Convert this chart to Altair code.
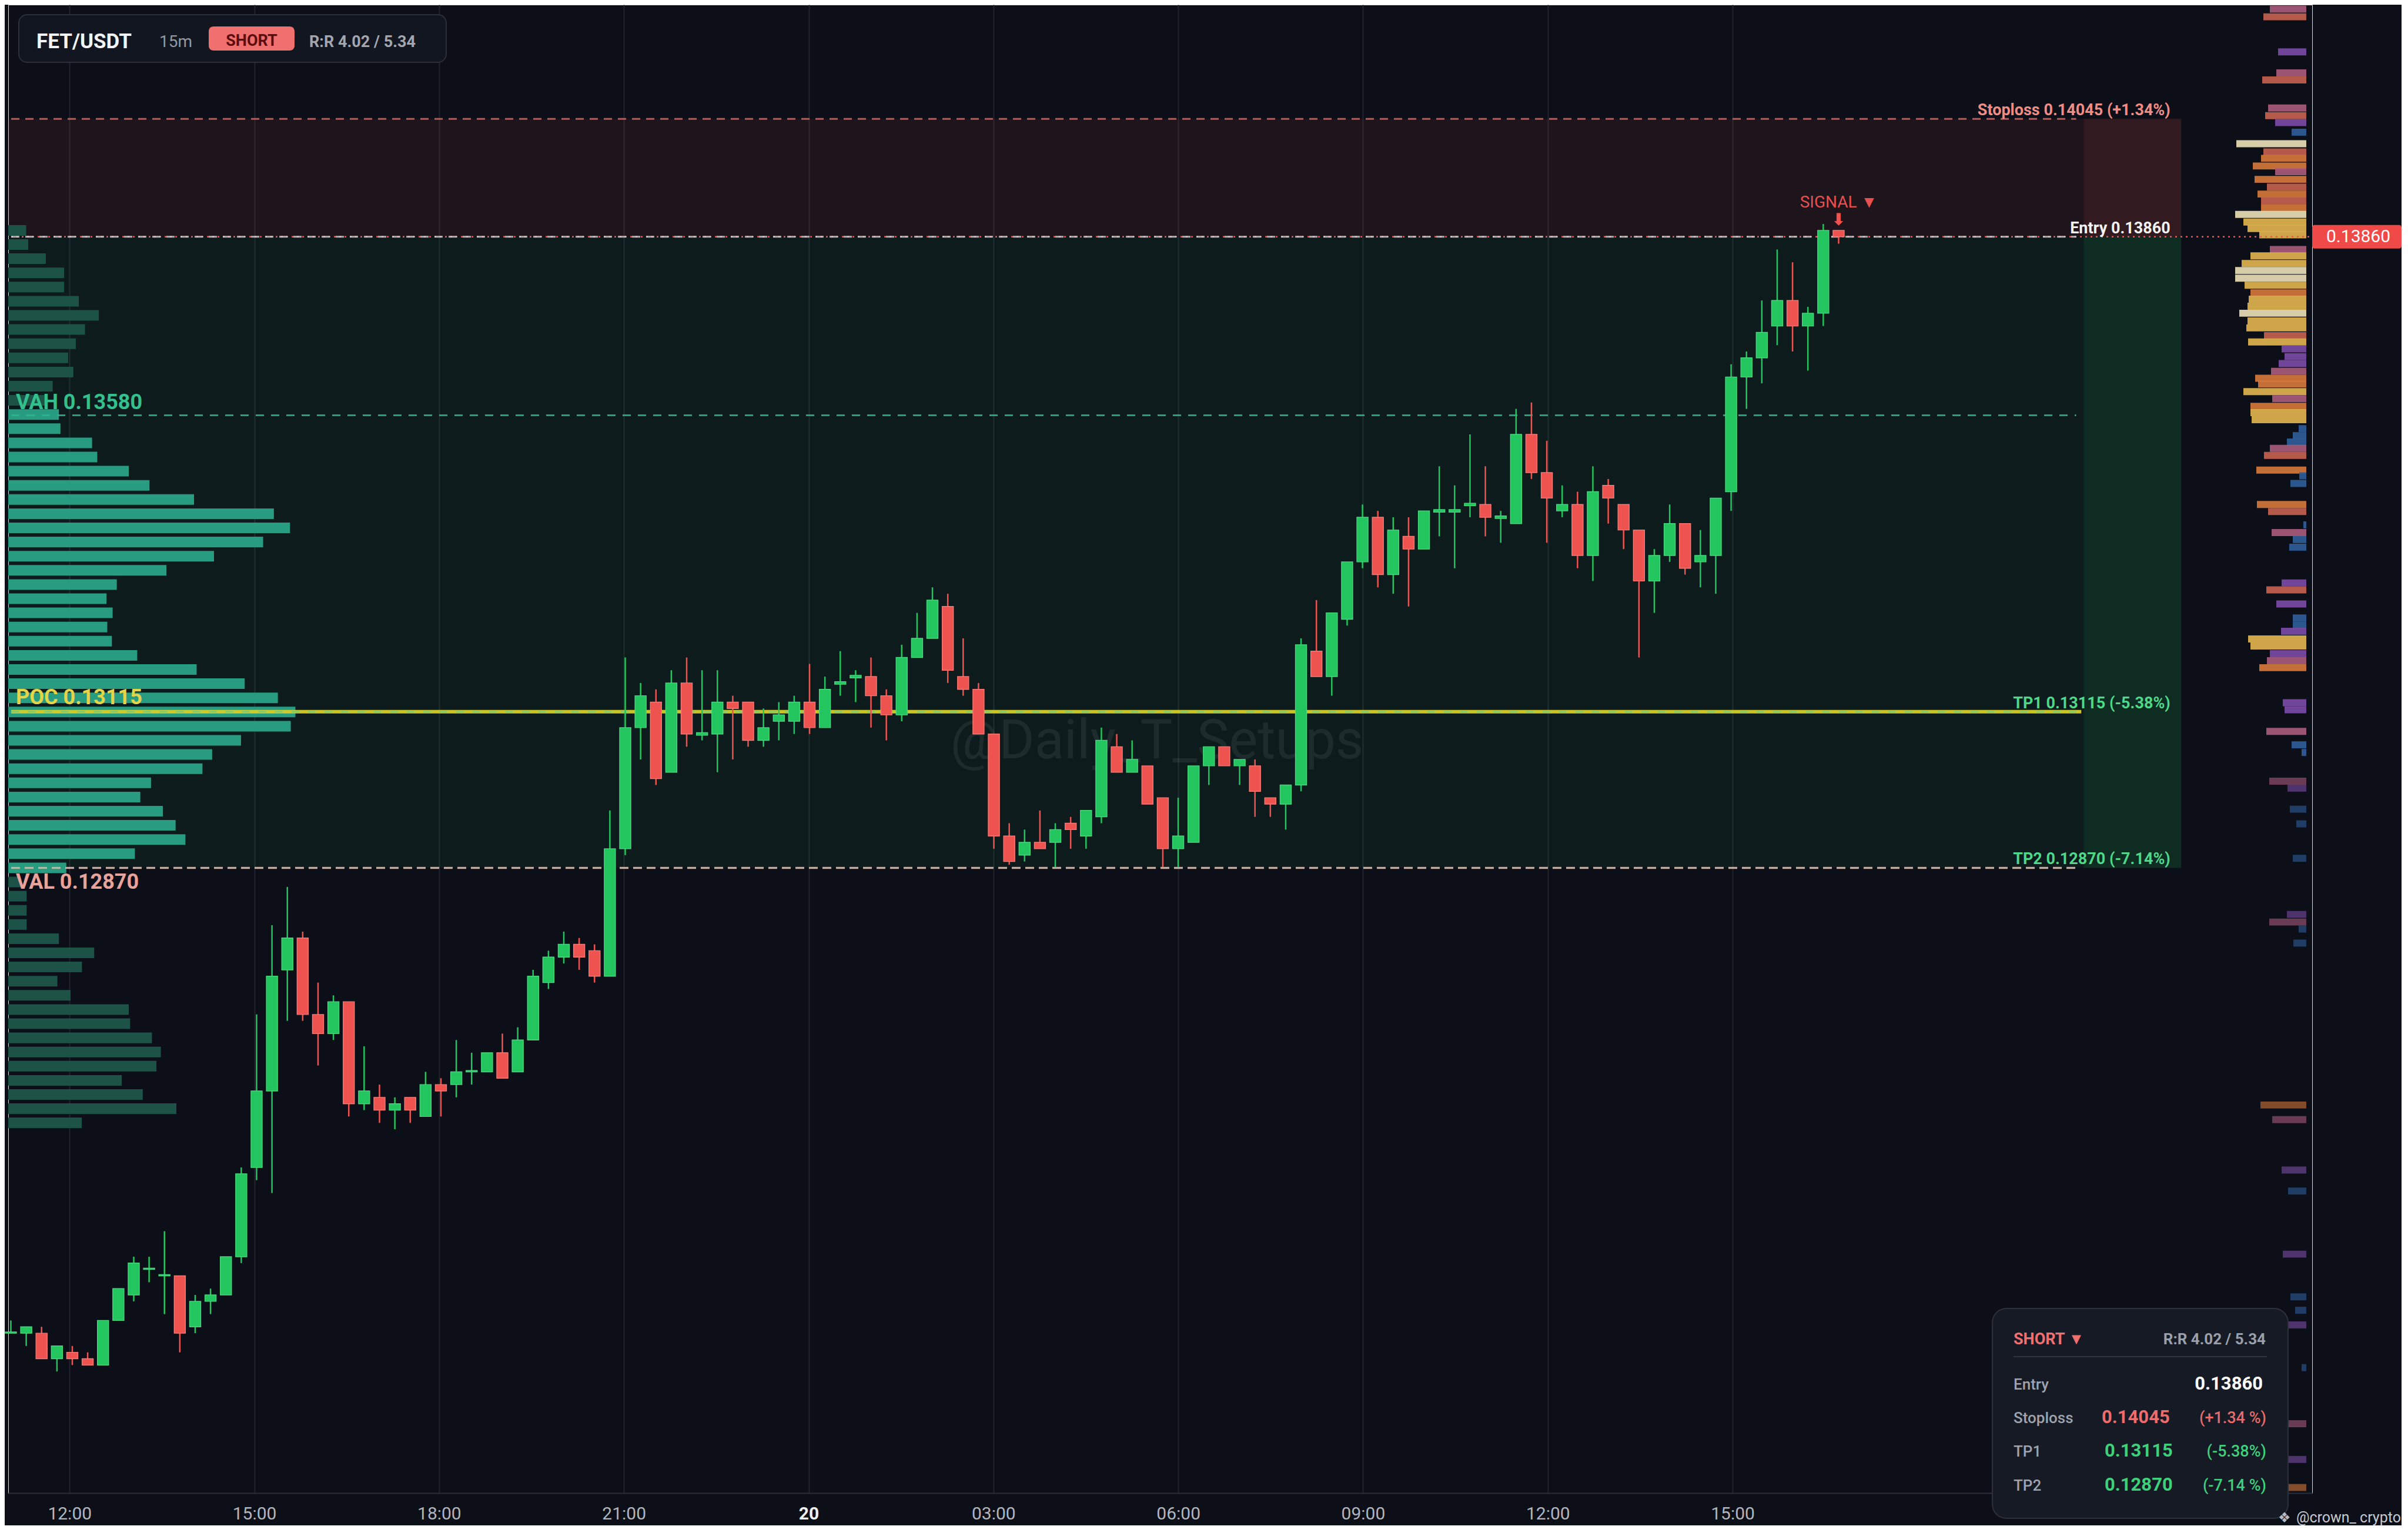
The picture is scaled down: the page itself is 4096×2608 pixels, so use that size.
import altair as alt
import pandas as pd

# ---------------- candle data (15m, from 11:00 on the 19th) ----------------
START_MIN = 660   # minutes after 00:00 of the 19th
STEP_MIN = 15

opens = [0.12140,0.12140,0.12140,0.12100,0.12110,0.12100,0.12090,0.12160,0.12200,0.12240,
0.12230,0.12230,0.12150,0.12190,0.12200,0.12260,0.12400,0.12520,0.12710,0.12760,
0.12640,0.12610,0.12660,0.12500,0.12510,0.12490,0.12510,0.12480,0.12530,0.12530,
0.12550,0.12550,0.12580,0.12550,0.12600,0.12690,0.12730,0.12750,0.12740,0.12700,
0.12900,0.13090,0.13130,0.13020,0.13160,0.13078,0.13080,0.13130,0.13130,0.13070,
0.13100,0.13100,0.13130,0.13090,0.13158,0.13168,0.13170,0.13140,0.13110,0.13200,
0.13230,0.13280,0.13170,0.13150,0.13080,0.12920,0.12890,0.12910,0.12910,0.12940,
0.12920,0.12950,0.13060,0.13020,0.13030,0.12980,0.12900,0.12910,0.13030,0.13060,
0.13030,0.13030,0.12980,0.12970,0.13000,0.13210,0.13170,0.13260,0.13350,0.13420,
0.13330,0.13390,0.13370,0.13428,0.13428,0.13438,0.13440,0.13418,0.13410,0.13550,
0.13490,0.13430,0.13440,0.13360,0.13470,0.13440,0.13400,0.13320,0.13360,0.13410,
0.13350,0.13360,0.13460,0.13640,0.13670,0.13720,0.13760,0.13720,0.13740,0.13870]

highs = [0.12160,0.12150,0.12150,0.12120,0.12120,0.12110,0.12160,0.12210,0.12260,0.12260,
0.12300,0.12230,0.12200,0.12210,0.12260,0.12400,0.12640,0.12780,0.12840,0.12770,
0.12690,0.12670,0.12660,0.12590,0.12530,0.12510,0.12510,0.12550,0.12540,0.12600,
0.12580,0.12580,0.12610,0.12620,0.12710,0.12740,0.12770,0.12760,0.12750,0.12960,
0.13200,0.13160,0.13150,0.13180,0.13200,0.13180,0.13180,0.13140,0.13130,0.13120,
0.13130,0.13140,0.13190,0.13170,0.13210,0.13180,0.13200,0.13150,0.13220,0.13270,
0.13310,0.13300,0.13230,0.13160,0.13080,0.12940,0.12930,0.12960,0.12940,0.12950,
0.12960,0.13090,0.13080,0.13070,0.13030,0.12980,0.12980,0.13030,0.13060,0.13060,
0.13040,0.13040,0.12980,0.13000,0.13230,0.13290,0.13270,0.13350,0.13440,0.13430,
0.13420,0.13420,0.13430,0.13500,0.13470,0.13550,0.13500,0.13430,0.13590,0.13600,
0.13540,0.13470,0.13460,0.13500,0.13480,0.13440,0.13400,0.13370,0.13440,0.13410,
0.13400,0.13450,0.13660,0.13680,0.13760,0.13840,0.13820,0.13750,0.13880,0.13870]

lows = [0.12140,0.12120,0.12100,0.12080,0.12090,0.12090,0.12090,0.12160,0.12190,0.12220,
0.12170,0.12110,0.12140,0.12170,0.12200,0.12250,0.12380,0.12360,0.12630,0.12630,
0.12560,0.12600,0.12480,0.12490,0.12470,0.12460,0.12470,0.12480,0.12480,0.12510,
0.12530,0.12550,0.12540,0.12550,0.12600,0.12680,0.12720,0.12710,0.12690,0.12700,
0.12890,0.13040,0.13000,0.13020,0.13060,0.13070,0.13020,0.13040,0.13060,0.13060,
0.13070,0.13080,0.13080,0.13090,0.13140,0.13130,0.13090,0.13070,0.13100,0.13200,
0.13230,0.13160,0.13140,0.13080,0.12900,0.12875,0.12880,0.12900,0.12871,0.12900,
0.12900,0.12940,0.13020,0.13020,0.12970,0.12871,0.12871,0.12910,0.13000,0.13030,
0.13000,0.12950,0.12950,0.12930,0.12990,0.13170,0.13140,0.13250,0.13340,0.13310,
0.13300,0.13280,0.13370,0.13390,0.13340,0.13420,0.13390,0.13380,0.13410,0.13480,
0.13380,0.13420,0.13340,0.13320,0.13410,0.13370,0.13200,0.13270,0.13350,0.13330,
0.13310,0.13300,0.13430,0.13590,0.13630,0.13690,0.13680,0.13650,0.13720,0.13849]

closes = [0.12142,0.12150,0.12100,0.12120,0.12100,0.12090,0.12160,0.12210,0.12250,0.12242,
0.12232,0.12140,0.12190,0.12200,0.12260,0.12390,0.12520,0.12700,0.12760,0.12640,
0.12610,0.12660,0.12500,0.12520,0.12490,0.12500,0.12490,0.12530,0.12520,0.12550,
0.12552,0.12580,0.12540,0.12600,0.12700,0.12730,0.12750,0.12730,0.12700,0.12900,
0.13090,0.13140,0.13010,0.13160,0.13080,0.13082,0.13130,0.13120,0.13070,0.13090,
0.13110,0.13130,0.13090,0.13150,0.13162,0.13172,0.13140,0.13110,0.13200,0.13230,
0.13290,0.13180,0.13150,0.13080,0.12920,0.12880,0.12910,0.12900,0.12930,0.12930,
0.12960,0.13070,0.13020,0.13040,0.12970,0.12900,0.12920,0.13030,0.13060,0.13030,
0.13040,0.12990,0.12970,0.13000,0.13220,0.13170,0.13270,0.13350,0.13420,0.13330,
0.13400,0.13370,0.13430,0.13432,0.13432,0.13442,0.13420,0.13422,0.13550,0.13490,
0.13450,0.13440,0.13360,0.13460,0.13450,0.13400,0.13320,0.13360,0.13410,0.13340,
0.13360,0.13450,0.13640,0.13670,0.13710,0.13760,0.13720,0.13740,0.13870,0.13860]

# ---------------- trade levels ----------------
ENTRY, STOPLOSS, TP1, TP2 = 0.13860, 0.14045, 0.13115, 0.12870
VAH, POC, VAL = 0.13580, 0.13115, 0.12870

# ---------------- left volume profile (top bin 0.13870, 64 bins) ----------------
LP_TOP = 0.13870
LP_STEP = 0.000222222
lp_vol = [11.7,13,24.5,36.4,36.4,46,59,50,44,39,42.4,29,25,33,34,54.6,58,78.5,92,121,
173,183.5,166,134,103,70.7,64,68,64.5,67.5,84,122.7,154,175.6,187,184,151.6,132.8,126.5,93,
86,100.7,109,115.4,82.5,37.8,8,12,12,12,33,56,48,32,40.6,78.5,79.4,93.6,99.4,96.5,
73.9,87.6,109.5,47.9]
LP_VA_FIRST, LP_VA_LAST = 13, 45

# ---------------- right (session) volume profile ----------------
rp_price = [0.14217,0.14205,0.14150,0.14117,0.14106,0.14062,0.14050,0.14039,0.14024,0.14006,
0.13993,0.13983,0.13971,0.13962,0.13950,0.13938,0.13927,0.13916,0.13905,0.13895,
0.13883,0.13873,0.13863,0.13840,0.13830,0.13818,0.13807,0.13795,0.13784,0.13772,
0.13762,0.13751,0.13740,0.13728,0.13717,0.13705,0.13695,0.13684,0.13672,0.13661,
0.13649,0.13638,0.13629,0.13617,0.13606,0.13594,0.13584,0.13573,0.13559,0.13548,
0.13538,0.13528,0.13517,0.13494,0.13485,0.13473,0.13440,0.13429,0.13408,0.13396,
0.13385,0.13373,0.13317,0.13306,0.13284,0.13262,0.13251,0.13241,0.13229,0.13218,
0.13206,0.13195,0.13184,0.13129,0.13118,0.13084,0.13063,0.13051,0.13006,0.12995,
0.12962,0.12939,0.12885,0.12797,0.12785,0.12774,0.12752,0.12498,0.12475,0.12396,
0.12363,0.12264,0.12197,0.12176,0.12153,0.12086,0.11998,0.11942,0.11898]
rp_vol = [62,73,48,51,75,65,70,53,25,119,
73,77,91,53,88,67,83,77,77,121,
107,100,80,62,95,110,121,121,105,95,
98,100,114,100,102,72,99,42,37,47,
60,87,82,107,58,95,95,93,13,23,
33,62,72,85,12,27,84,65,5,59,
23,29,42,68,51,23,23,43,99,95,
62,67,80,40,37,68,25,8,63,32,
28,17,23,33,63,13,22,78,58,42,
31,40,27,19,31,8,30,31,31]
rp_kind = ["mauve","salmon","purple","mauve","salmon","mauve","salmon","purple","blue","cream",
"salmon","orange","orange","mauve","orange","salmon","orange","salmon","orange","cream",
"gold","gold","gold","mauve","gold","gold","cream","cream","gold","orange",
"gold","gold","cream","gold","gold","salmon","gold","purple","purple","purple",
"mauve","orange","orange","gold","mauve","orange","gold","gold","blue","blue",
"blue","mauve","salmon","orange","blue","blue","orange","salmon","blue","mauve",
"blue","blue","purple","salmon","purple","blue","blue","purple","gold","gold",
"purple","mauve","orange","purple","purple","mauve","blue","blue","mauve","purple",
"blue","blue","blue","purple","mauve","blue","blue","orange","mauve","purple",
"blue","purple","blue","blue","purple","blue","mauve","purple","orange"]

# ---------------- axis ticks ----------------
x_ticks = [720, 900, 1080, 1260, 1440, 1620, 1800, 1980, 2160, 2340]
y_ticks = [0.119,0.120,0.121,0.122,0.123,0.124,0.125,0.126,0.127,0.128,0.129,0.130,
           0.131,0.132,0.133,0.134,0.135,0.136,0.137,0.138,0.139,0.140,0.141,0.142]

# ---------------- layout / style ----------------
W, H = 3919, 2532
X_DOMAIN = [660.3, 2904.6]
Y_DOMAIN = [0.118893, 0.14224]
LINE_END = 2677
ZONE_SPLIT = 2682
ZONE_END = 2777
LABEL_X = 2769
BG = "#0c0f17"
GREEN = "#22c55e"
RED = "#ef5350"
GRID = "#20242f"
FONT = "Roboto"
KIND_COLORS = {"cream": "#e8dcb4", "gold": "#e0b24e", "orange": "#d4773b", "salmon": "#c4604f",
               "mauve": "#a95a7c", "purple": "#7b4ba6", "blue": "#2f5d99"}

xs = alt.Scale(domain=X_DOMAIN, nice=False, zero=False)
ys = alt.Scale(domain=Y_DOMAIN, nice=False, zero=False)

LABEL_EXPR = ("datum.value % 1440 == 0 ? '20' : "
              "(floor((datum.value % 1440) / 60) < 10 ? '0' : '') + floor((datum.value % 1440) / 60) + ':00'")

x_axis = alt.Axis(values=x_ticks, labelExpr=LABEL_EXPR, title=None, grid=True, gridColor=GRID,
                  gridWidth=2, ticks=False, domainColor="#2a2e39", domainWidth=2,
                  labelFontSize=30, labelFont=FONT, labelPadding=20, labelFlush=False,
                  labelColor={"condition": {"test": "datum.value % 1440 == 0", "value": "#eef0f4"}, "value": "#b2b5be"},
                  labelFontWeight={"condition": {"test": "datum.value % 1440 == 0", "value": "bold"}, "value": "normal"})
y_axis = alt.Axis(orient="right", values=y_ticks, format=".5f", title=None, grid=True, gridColor=GRID,
                  gridWidth=2, ticks=False, domainColor="#2a2e39", domainWidth=2,
                  labelFontSize=30, labelFont=FONT, labelColor="#d1d4dc", labelPadding=24)

ONE = pd.DataFrame({"k": [0]})

# ---------------- zones ----------------
X0 = X_DOMAIN[0]
zones_df = pd.DataFrame({
    "x1": [X0, ZONE_SPLIT, X0, ZONE_SPLIT],
    "x2": [ZONE_SPLIT, ZONE_END, ZONE_SPLIT, ZONE_END],
    "y1": [ENTRY, ENTRY, TP2, TP2],
    "y2": [STOPLOSS, STOPLOSS, ENTRY, ENTRY],
    "fill": ["rgba(239,83,80,0.08)", "rgba(239,83,80,0.17)", "rgba(34,197,94,0.07)", "rgba(34,197,94,0.16)"],
})
zones = alt.Chart(zones_df).mark_rect().encode(
    x=alt.X("x1:Q", scale=xs, axis=x_axis),
    x2="x2:Q",
    y=alt.Y("y1:Q", scale=ys, axis=y_axis),
    y2="y2:Q",
    fill=alt.Fill("fill:N", scale=None),
)

def txt(x, y, s, size, color, weight="normal", align="left", baseline="alphabetic", font=FONT, opacity=1.0):
    return alt.Chart(ONE).mark_text(align=align, baseline=baseline, fontSize=size, fontWeight=weight,
                                    color=color, font=font, opacity=opacity).encode(
        x=alt.value(x), y=alt.value(y), text=alt.value(s))

watermark = txt(1954, 1254, "@Daily_T_Setups", 92, "#ffffff", align="center", baseline="middle", opacity=0.07)

base = alt.layer(zones, watermark)

# ---------------- left profile ----------------
lp_df = pd.DataFrame({"vol": lp_vol})
lp_df["p"] = [LP_TOP - i * LP_STEP for i in range(len(lp_vol))]
lp_df["lo"] = lp_df["p"] - 0.000083
lp_df["hi"] = lp_df["p"] + 0.000083
lp_df["zero"] = 0.0
lp_df["va"] = [LP_VA_FIRST <= i <= LP_VA_LAST for i in range(len(lp_vol))]
left_prof = alt.Chart(lp_df).mark_rect().encode(
    x=alt.X("zero:Q", scale=alt.Scale(domain=[0, 1500.4], nice=False, zero=False), axis=None),
    x2="vol:Q",
    y=alt.Y("lo:Q", scale=ys, axis=None),
    y2="hi:Q",
    fill=alt.condition("datum.va", alt.value("#279c80"), alt.value("#1d5347")),
)

# ---------------- right profile ----------------
rp_df = pd.DataFrame({"p": rp_price, "vol": rp_vol, "kind": rp_kind})
rp_df["hex"] = [KIND_COLORS[k] for k in rp_kind]
rp_df["lo"] = rp_df["p"] - 0.000055
rp_df["hi"] = rp_df["p"] + 0.000055
rp_df["zero"] = 0.0
right_prof = alt.Chart(rp_df).mark_rect().encode(
    x=alt.X("zero:Q", scale=alt.Scale(domain=[-10, W - 10], reverse=True, nice=False, zero=False), axis=None),
    x2="vol:Q",
    y=alt.Y("lo:Q", scale=ys, axis=None),
    y2="hi:Q",
    fill=alt.Fill("hex:N", scale=None),
    opacity=alt.condition("datum.p < 0.1305", alt.value(0.6), alt.value(0.92)),
)

# ---------------- level lines ----------------
def hline(price, x1, x2, color, width, dash=None, offset=None, opacity=1.0):
    df = pd.DataFrame({"p": [price], "x1": [x1], "x2": [x2]})
    kw = dict(color=color, strokeWidth=width, opacity=opacity)
    if dash:
        kw["strokeDash"] = dash
    if offset:
        kw["strokeDashOffset"] = offset
    return alt.Chart(df).mark_rule(**kw).encode(
        x=alt.X("x1:Q", scale=xs, axis=None), x2="x2:Q", y=alt.Y("p:Q", scale=ys, axis=None))

lines = [
    hline(STOPLOSS, X0, LINE_END, "#d9645f", 3, [14, 10], opacity=0.85),
    hline(ENTRY, X0, X_DOMAIN[1], RED, 2.5, [3, 6]),
    hline(ENTRY, X0, LINE_END, "#e8e2e2", 3, [14, 10], opacity=0.75),
    hline(VAH, X0, LINE_END, "#2bb88c", 3, [14, 12], opacity=0.85),
    hline(POC, X0, ZONE_SPLIT, "#d4cf2a", 6, opacity=0.95),
    hline(TP1, X0, LINE_END, "#7ad07a", 3, [14, 14]),
    hline(VAL, X0, LINE_END, "#d77f78", 3.5, [15, 8], opacity=0.9),
    hline(TP2, X0, LINE_END, "#b8d8c0", 3, [15, 8], opacity=0.6),
]

# ---------------- candles ----------------
cd = pd.DataFrame({"t": [START_MIN + i * STEP_MIN for i in range(len(opens))],
                   "open": opens, "high": highs, "low": lows, "close": closes})
up = alt.condition("datum.close >= datum.open", alt.value(GREEN), alt.value(RED))
up_edge = alt.condition("datum.close >= datum.open", alt.value("#4ad67e"), alt.value("#f37a76"))
wick = alt.Chart(cd).mark_rule(strokeWidth=2.5).encode(
    x=alt.X("t:Q", scale=xs, axis=None), y=alt.Y("low:Q", scale=ys, axis=None), y2="high:Q", color=up)
body = alt.Chart(cd).mark_bar(width=19, strokeWidth=1.4).encode(
    x=alt.X("t:Q", scale=xs, axis=None), y=alt.Y("open:Q", scale=ys, axis=None), y2="close:Q",
    fill=up, stroke=up_edge)

# ---------------- level labels ----------------
def right_label(price, s, color):
    df = pd.DataFrame({"p": [price], "x": [LABEL_X]})
    return alt.Chart(df).mark_text(align="right", baseline="alphabetic", dy=-6, fontSize=27,
                                   fontWeight="bold", color=color, font=FONT).encode(
        x=alt.X("x:Q", scale=xs, axis=None), y=alt.Y("p:Q", scale=ys, axis=None), text=alt.value(s))

def left_label(price, s, color, dy):
    df = pd.DataFrame({"p": [price]})
    return alt.Chart(df).mark_text(align="left", baseline="alphabetic", dy=dy, fontSize=36,
                                   fontWeight="bold", color=color, font=FONT).encode(
        x=alt.value(13), y=alt.Y("p:Q", scale=ys, axis=None), text=alt.value(s))

labels = [
    right_label(STOPLOSS, "Stoploss 0.14045 (+1.34%)", "#f08c84"),
    right_label(ENTRY, "Entry 0.13860", "#f2f2f2"),
    right_label(TP1, "TP1 0.13115 (-5.38%)", "#4fd78a"),
    right_label(TP2, "TP2 0.12870 (-7.14%)", "#4fd78a"),
    left_label(VAH, "VAH  0.13580", "#34c08e", -10),
    left_label(POC, "POC  0.13115", "#e2d548", -13),
    left_label(VAL, "VAL  0.12870", "#e8a49c", 36),
]

# ---------------- signal marker ----------------
sig_df = cd.tail(1)
signal_txt = alt.Chart(sig_df).mark_text(align="center", baseline="alphabetic", dy=-39, fontSize=28,
                                         color="#e85050", font=FONT).encode(
    x=alt.X("t:Q", scale=xs, axis=None), y=alt.Y("high:Q", scale=ys, axis=None), text=alt.value("SIGNAL ▼"))
signal_arrow = alt.Chart(sig_df).mark_text(align="center", baseline="middle", dy=-17, fontSize=28,
                                           color="#ef5350", font="DejaVu Sans", fontWeight="bold").encode(
    x=alt.X("t:Q", scale=xs, axis=None), y=alt.Y("high:Q", scale=ys, axis=None), text=alt.value("⬇"))

# ---------------- price tag on axis ----------------
tag_df = pd.DataFrame({"p": [ENTRY], "lo": [ENTRY - 0.000185], "hi": [ENTRY + 0.000185]})
tag = alt.Chart(tag_df).mark_rect(color="#ef4a48", cornerRadius=4).encode(
    x=alt.value(W), x2=alt.value(W + 152), y=alt.Y("lo:Q", scale=ys, axis=None), y2="hi:Q")
tag_txt = alt.Chart(tag_df).mark_text(align="left", baseline="middle", fontSize=30, color="#ffffff", font=FONT).encode(
    x=alt.value(W + 24), y=alt.Y("p:Q", scale=ys, axis=None), text=alt.value("0.13860"))

# ---------------- header box ----------------
def box(x1, y1, x2, y2, fill, stroke, radius, width=2):
    return alt.Chart(ONE).mark_rect(fill=fill, stroke=stroke, strokeWidth=width, cornerRadius=radius).encode(
        x=alt.value(x1), x2=alt.value(x2), y=alt.value(y1), y2=alt.value(y2))

header = [
    box(18, 17, 745, 98, "#121620", "#2b2f3a", 14),
    txt(48, 74, "FET/USDT", 35, "#f2f4f8", weight="bold"),
    txt(257, 72, "15m", 28, "#9598a1"),
    box(341, 37, 487, 78, "#f07070", "#f07070", 8, 0),
    txt(414, 70, "SHORT", 27, "#5c0c0c", weight="bold", align="center"),
    txt(512, 72, "R:R 4.02 / 5.34", 27, "#a3a6af", weight="bold"),
]

# ---------------- summary box ----------------
summary = [
    box(3375, 2218, 3878, 2575, "#161a24", "#2c303b", 24),
    txt(3411, 2279, "SHORT ▼", 27, "#f07070", weight="bold"),
    txt(3840, 2279, "R:R 4.02 / 5.34", 26, "#9aa0ab", weight="bold", align="right"),
    alt.Chart(ONE).mark_rule(color="#2f3440", strokeWidth=2).encode(
        x=alt.value(3411), x2=alt.value(3842), y=alt.value(2300)),
    txt(3411, 2356, "Entry", 26, "#9ea3ad", weight=500),
    txt(3835, 2356, "0.13860", 31, "#ffffff", weight="bold", align="right"),
    txt(3411, 2413, "Stoploss", 26, "#9ea3ad", weight=500),
    txt(3561, 2413, "0.14045", 31, "#f06b6b", weight="bold"),
    txt(3841, 2413, "(+1.34 %)", 27, "#e86b6b", weight=500, align="right"),
    txt(3411, 2470, "TP1", 26, "#9ea3ad", weight=500),
    txt(3566, 2470, "0.13115", 31, "#3fd07c", weight="bold"),
    txt(3841, 2470, "(-5.38%)", 27, "#3fd07c", weight=500, align="right"),
    txt(3411, 2528, "TP2", 26, "#9ea3ad", weight=500),
    txt(3566, 2528, "0.12870", 31, "#3fd07c", weight="bold"),
    txt(3841, 2528, "(-7.14 %)", 27, "#3fd07c", weight=500, align="right"),
    txt(3861, 2582, "❖", 24, "#b8bac0", font="DejaVu Sans"),
    txt(3892, 2582, "@crown_ crypto", 25, "#c8cad0"),
]

top = alt.layer(*lines, wick, body, *labels, signal_txt, signal_arrow, tag, tag_txt, *header, *summary)

chart = alt.layer(base, left_prof, right_prof, top).resolve_scale(x="independent").properties(
    width=W, height=H, padding=0, background=BG
).configure_view(stroke=None).configure(font=FONT)

chart.save("out.html", embed_options={"renderer": "svg", "actions": False})
